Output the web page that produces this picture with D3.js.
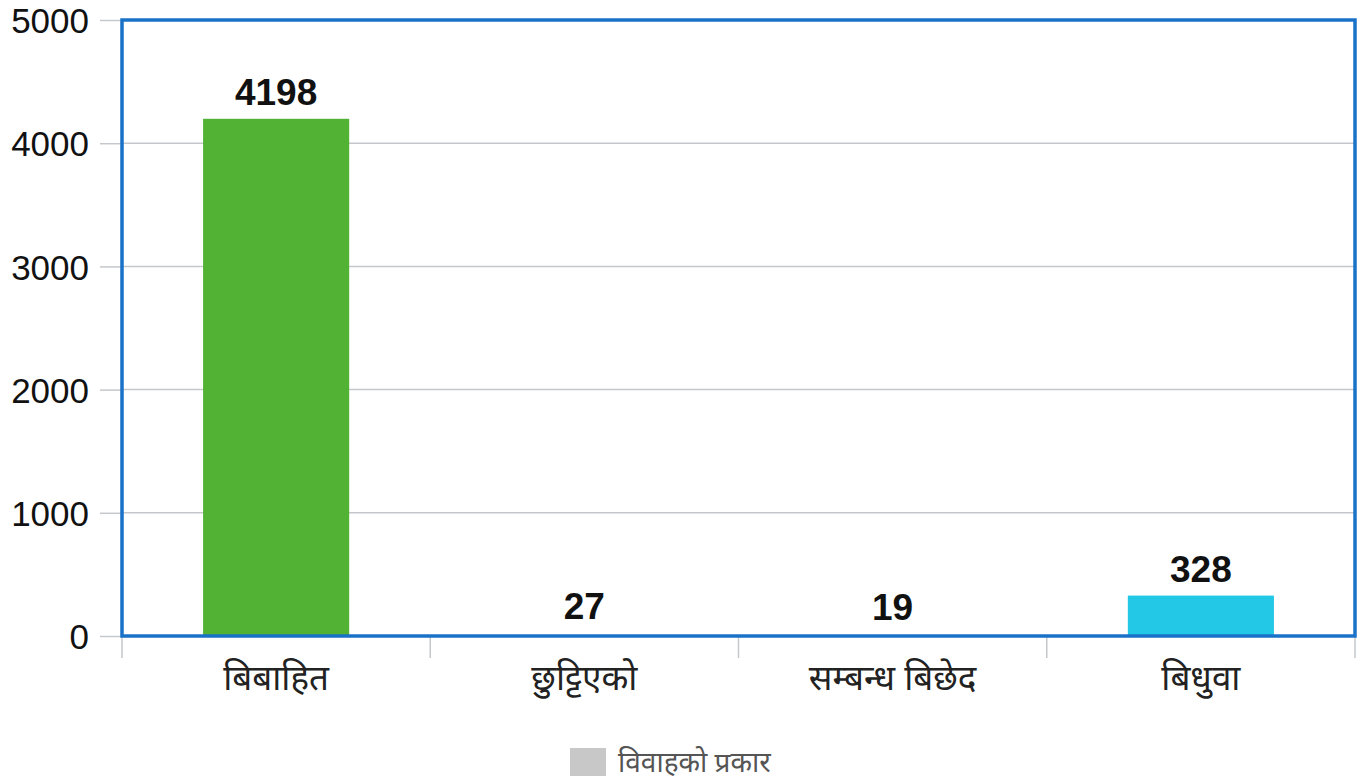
<!DOCTYPE html>
<html>
<head>
<meta charset="utf-8">
<script src="https://cdn.jsdelivr.net/npm/d3@7"></script>
<style>
  body { margin: 0; background: #fff; }
  svg { display: block; font-family: "Liberation Sans", Arial, sans-serif; }
  .xlab { font-family: "Noto Sans", "Noto Sans Devanagari", "Lohit Devanagari", sans-serif; }
</style>
</head>
<body>
<svg id="chart"></svg>
<script>
// chart data
const categories = ["बिबाहित", "छुट्टिएको", "सम्बन्ध बिछेद", "बिधुवा"];
const counts = [4198, 27, 19, 328];
const barColors = ["#52b233", "#ffffff", "#ffffff", "#22c8e5"];
const yTicks = [0, 1000, 2000, 3000, 4000, 5000];
const legendLabel = "विवाहको प्रकार";

const width = 1365, height = 783;
const margin = {top: 20, right: 10, bottom: 147, left: 122};

const svg = d3.select('#chart')
  .attr('width', width)
  .attr('height', height);

const plotW = width - margin.left - margin.right;
const plotH = height - margin.top - margin.bottom;

const x = d3.scaleBand()
  .domain(categories)
  .range([0, plotW])
  .paddingInner(0.526)
  .paddingOuter(0.263);

const y = d3.scaleLinear()
  .domain([0, 5000])
  .range([plotH, 0]);

const g = svg.append('g')
  .attr('transform', `translate(${margin.left},${margin.top})`);

// gridlines
g.append('g')
  .selectAll('line')
  .data(yTicks.filter(t => t > 0 && t < 5000))
  .enter().append('line')
  .attr('x1', 0).attr('x2', plotW)
  .attr('y1', d => y(d)).attr('y2', d => y(d))
  .attr('stroke', '#c4c8cc')
  .attr('stroke-width', 1.5);

// y axis: short ticks and labels
const yAxis = g.append('g')
  .call(d3.axisLeft(y).tickValues(yTicks).tickSize(22).tickPadding(11).tickFormat(d3.format('d')));
yAxis.select('.domain').remove();
yAxis.selectAll('.tick line').attr('stroke', '#c4c8cc').attr('stroke-width', 1.5);
yAxis.selectAll('.tick text')
  .attr('font-size', 35)
  .attr('fill', '#111')
  .attr('dy', '0.36em')
  .attr('font-family', '"Liberation Sans", Arial, sans-serif');

// x axis: category separators
const bounds = categories.map(c => x(c) - x.step() * x.paddingInner() / 2);
bounds.push(plotW);
g.append('g')
  .selectAll('line')
  .data(bounds)
  .enter().append('line')
  .attr('x1', d => d).attr('x2', d => d)
  .attr('y1', plotH).attr('y2', plotH + 22)
  .attr('stroke', '#c4c8cc')
  .attr('stroke-width', 1.5);

g.append('g')
  .selectAll('text')
  .data(categories)
  .enter().append('text')
  .attr('class', 'xlab')
  .attr('x', d => x(d) + x.bandwidth() / 2)
  .attr('y', plotH + 54)
  .attr('text-anchor', 'middle')
  .attr('font-size', 35)
  .attr('fill', '#222')
  .text(d => d);

// bars
g.append('g')
  .selectAll('rect')
  .data(counts)
  .enter().append('rect')
  .attr('x', (d, i) => x(categories[i]))
  .attr('y', d => y(d))
  .attr('width', x.bandwidth())
  .attr('height', d => plotH - y(d))
  .attr('fill', (d, i) => barColors[i]);

// value labels
g.append('g')
  .selectAll('text')
  .data(counts)
  .enter().append('text')
  .attr('x', (d, i) => x(categories[i]) + x.bandwidth() / 2)
  .attr('y', d => y(d) - 14)
  .attr('text-anchor', 'middle')
  .attr('font-size', 37)
  .attr('font-weight', 'bold')
  .attr('fill', '#111')
  .text(d => d);

// plot border
g.append('rect')
  .attr('x', 0).attr('y', 0)
  .attr('width', plotW).attr('height', plotH)
  .attr('fill', 'none')
  .attr('stroke', '#1a72c8')
  .attr('stroke-width', 3.5);

// legend
const legend = svg.append('g')
  .attr('transform', `translate(570, 748)`);
legend.append('rect')
  .attr('width', 36).attr('height', 28)
  .attr('fill', '#c8c8c8');
legend.append('text')
  .attr('class', 'xlab')
  .attr('x', 48).attr('y', 24)
  .attr('font-size', 28)
  .attr('fill', '#555')
  .text(legendLabel);
</script>
</body>
</html>
